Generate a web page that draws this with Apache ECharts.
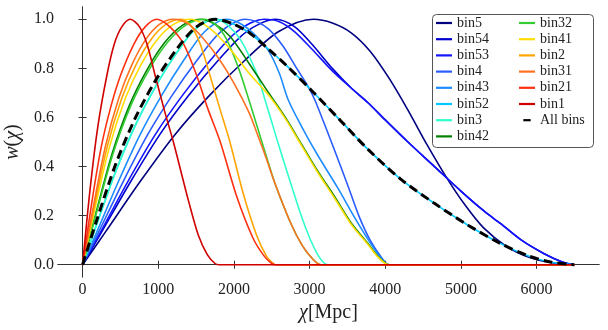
<!DOCTYPE html>
<html>
<head>
<meta charset="utf-8">
<script src="https://cdn.jsdelivr.net/npm/echarts@6/dist/echarts.min.js"></script>
<style>
  html, body { margin: 0; padding: 0; background: #fff; }
  #chart { width: 608px; height: 330px; }
</style>
</head>
<body>
<div id="chart"></div>
<script>
// tick labels
const xTicks = [0, 1000, 2000, 3000, 4000, 5000, 6000];
const yTicks = [0, 0.2, 0.4, 0.6, 0.8, 1.0];

// curves: [chi, w]
const bin5 = [[0,0],[305,0.135],[763,0.34],[1220,0.53],[1678,0.69],[2135,0.83],[2593,0.95],[3050,1],[3300,0.985],[3550,0.945],[3800,0.87],[4050,0.76],[4300,0.63],[4550,0.49],[4800,0.36],[5050,0.245],[5300,0.15],[5600,0.075],[5900,0.03],[6200,0.008],[6500,0]];
const bin54 = [[0,0],[255,0.135],[638,0.34],[1020,0.53],[1403,0.69],[1785,0.83],[2168,0.95],[2550,1],[2800,0.97],[3026,0.9],[3300,0.8],[3550,0.72],[3772,0.66],[4000,0.59],[4300,0.5],[4650,0.4],[5000,0.3],[5300,0.22],[5526,0.167],[5800,0.1],[6100,0.045],[6350,0.01],[6500,0]];
const bin53 = [[0,0],[240,0.135],[600,0.34],[960,0.53],[1320,0.69],[1680,0.83],[2040,0.95],[2400,1],[2600,0.99],[2800,0.95],[3026,0.88],[3300,0.79],[3550,0.72],[3772,0.66],[4000,0.59],[4300,0.5],[4650,0.4],[5000,0.3],[5300,0.22],[5526,0.167],[5800,0.1],[6100,0.045],[6350,0.01],[6500,0]];
const bin4 = [[0,0],[215,0.135],[538,0.34],[860,0.53],[1183,0.69],[1505,0.83],[1828,0.95],[2150,1],[2300,0.99],[2460,0.96],[2650,0.89],[2830,0.8],[2983,0.725],[3071,0.67],[3200,0.57],[3350,0.45],[3509,0.32],[3650,0.2],[3800,0.1],[3950,0.03],[4050,0],[6500,0]];
const bin43 = [[0,0],[190,0.135],[475,0.34],[760,0.53],[1045,0.69],[1330,0.83],[1615,0.95],[1900,1],[2100,0.98],[2300,0.93],[2460,0.87],[2600,0.78],[2720,0.67],[2900,0.56],[3100,0.45],[3378,0.31],[3600,0.19],[3800,0.09],[3950,0.025],[4050,0],[6500,0]];
const bin52 = [[0,0],[175,0.155],[438,0.38],[700,0.57],[963,0.725],[1225,0.855],[1488,0.96],[1750,1],[2000,0.98],[2225,0.94],[2450,0.88],[2700,0.81],[3026,0.71],[3400,0.59],[3772,0.47],[4200,0.35],[4650,0.25],[5100,0.16],[5526,0.086],[5900,0.035],[6200,0.01],[6500,0]];
const bin3 = [[0,0],[175,0.155],[438,0.38],[700,0.57],[963,0.725],[1225,0.855],[1488,0.96],[1750,1],[1900,0.98],[2100,0.91],[2300,0.78],[2413,0.67],[2550,0.53],[2650,0.43],[2763,0.32],[2900,0.19],[3000,0.11],[3100,0.045],[3180,0.01],[3250,0],[6500,0]];
const bin42 = [[0,0],[155,0.185],[388,0.45],[620,0.65],[853,0.795],[1085,0.905],[1318,0.975],[1550,1],[1750,0.98],[1950,0.93],[2200,0.82],[2460,0.7],[2680,0.6],[2895,0.49],[3100,0.385],[3334,0.276],[3550,0.17],[3772,0.086],[3900,0.035],[4000,0.006],[4050,0],[6500,0]];
const bin32 = [[0,0],[160,0.185],[400,0.45],[640,0.65],[880,0.795],[1120,0.905],[1360,0.975],[1600,1],[1750,0.98],[1900,0.92],[2062,0.8],[2200,0.67],[2300,0.57],[2420,0.45],[2544,0.33],[2750,0.17],[2900,0.08],[3050,0.02],[3150,0],[6500,0]];
const bin41 = [[0,0],[142,0.2],[355,0.48],[568,0.68],[781,0.82],[994,0.92],[1207,0.98],[1420,1],[1600,0.98],[1800,0.93],[2000,0.86],[2200,0.78],[2460,0.69],[2680,0.595],[2895,0.485],[3100,0.38],[3334,0.27],[3550,0.165],[3772,0.082],[3900,0.033],[4000,0.005],[4050,0],[6500,0]];
const bin2 = [[0,0],[130,0.2],[325,0.48],[520,0.68],[715,0.82],[910,0.92],[1105,0.98],[1300,1],[1430,0.975],[1553,0.9],[1685,0.77],[1810,0.64],[1947,0.5],[2123,0.29],[2300,0.12],[2430,0.035],[2530,0.003],[2560,0],[6500,0]];
const bin31 = [[0,0],[120,0.2],[300,0.48],[480,0.68],[660,0.82],[840,0.92],[1020,0.98],[1200,1],[1400,0.98],[1600,0.92],[1800,0.84],[2000,0.74],[2200,0.62],[2300,0.54],[2420,0.44],[2544,0.33],[2750,0.17],[2900,0.08],[3050,0.02],[3150,0],[6500,0]];
const bin21 = [[0,0],[120,0.25],[240,0.47],[370,0.64],[500,0.77],[680,0.9],[830,0.97],[980,1],[1150,0.97],[1334,0.9],[1509,0.77],[1650,0.64],[1820,0.5],[2035,0.28],[2250,0.11],[2400,0.035],[2500,0.005],[2550,0],[6500,0]];
const bin1 = [[0,0],[100,0.31],[200,0.56],[320,0.77],[420,0.9],[520,0.97],[630,1],[750,0.97],[850,0.9],[960,0.77],[1080,0.63],[1200,0.5],[1300,0.38],[1400,0.26],[1530,0.12],[1650,0.04],[1750,0.005],[1800,0],[6500,0]];
const allBins = [[0,0],[175,0.17],[438,0.41],[700,0.6],[963,0.75],[1225,0.87],[1488,0.965],[1750,1],[2000,0.98],[2225,0.94],[2450,0.88],[2700,0.81],[3026,0.71],[3400,0.59],[3772,0.47],[4200,0.35],[4650,0.25],[5100,0.16],[5526,0.086],[5900,0.035],[6200,0.01],[6500,0]];

const names = ['bin5','bin54','bin53','bin4','bin43','bin52','bin3','bin42','bin32','bin41','bin2','bin31','bin21','bin1'];
const curves = [bin5, bin54, bin53, bin4, bin43, bin52, bin3, bin42, bin32, bin41, bin2, bin31, bin21, bin1];
const colors = ['#000080','#0000cd','#1414ff','#2a5cff','#1e8cff','#00c8ff','#30ffcc','#008000','#33cc33','#ffdd00','#ffa500','#ff7020','#ff3010','#d00000'];

const serif = '"Liberation Serif", "Times New Roman", serif';
const txt = { fontFamily: serif, color: '#222' };

const series = names.map((n, i) => ({
  name: n,
  type: 'line',
  data: curves[i],
  smooth: 0.3,
  symbol: 'none',
  lineStyle: { color: colors[i], width: 1.6 },
  itemStyle: { color: colors[i] },
  z: 2,
}));
series.push({
  name: 'All bins',
  type: 'line',
  data: allBins,
  smooth: 0.3,
  symbol: 'none',
  lineStyle: { color: '#000', width: 3, type: [9, 5] },
  itemStyle: { color: '#000' },
  z: 3,
});

const chart = echarts.init(document.getElementById('chart'));

const frame = { show: true, lineStyle: { color: '#333', width: 1 } };
const inTicks = { show: true, inside: true, length: 4, lineStyle: { color: '#333' } };

const legendCommon = {
  orient: 'vertical',
  top: 16,
  padding: 0,
  icon: 'rect',
  itemWidth: 16,
  itemHeight: 2.2,
  itemGap: 2.2,
  z: 20,
  formatter: n => '{a|' + n + '}',
  textStyle: Object.assign({ fontSize: 14, lineHeight: 14,
    rich: { a: Object.assign({ fontSize: 14, lineHeight: 14 }, txt) } }, txt),
};

const legendRight = names.slice(8).map(n => ({ name: n }));
legendRight.push({ name: 'All bins', icon: 'path://M0,0H10V3H0Z' });

const tickText = Object.assign({ fontSize: 16 }, txt);
const nameText = Object.assign({ fontSize: 20,
  rich: { m: Object.assign({ fontSize: 20, fontStyle: 'italic' }, txt), r: Object.assign({ fontSize: 20 }, txt) } }, txt);

chart.setOption({
  animation: false,
  backgroundColor: '#fff',
  textStyle: { fontFamily: serif },
  grid: { left: 58, right: 9, top: 7, bottom: 53, outerBoundsMode: 'none' },
  xAxis: [
    {
      type: 'value', min: -325, max: 6825,
      axisLine: frame,
      axisTick: Object.assign({ customValues: xTicks }, inTicks),
      axisLabel: Object.assign({ customValues: xTicks, margin: 5,
        formatter: v => '{t|' + v + '}', rich: { t: tickText } }, tickText),
      splitLine: { show: false },
      name: '{m|χ}{r|[Mpc]}',
      nameLocation: 'middle',
      nameGap: 25,
      nameTextStyle: nameText,
    },
    {
      type: 'value', min: -325, max: 6825, position: 'top',
      axisLine: frame,
      axisTick: Object.assign({ customValues: xTicks }, inTicks),
      axisLabel: { show: false },
      splitLine: { show: false },
    },
  ],
  yAxis: [
    {
      type: 'value', min: -0.05, max: 1.05,
      axisLine: frame,
      axisTick: Object.assign({ customValues: yTicks }, inTicks),
      axisLabel: Object.assign({ customValues: yTicks, margin: 4,
        formatter: v => '{t|' + v.toFixed(1) + '}', rich: { t: tickText } }, tickText),
      splitLine: { show: false },
      name: '{m|w}{r|(}{m|χ}{r|)}',
      nameLocation: 'middle',
      nameGap: 24,
      nameTextStyle: nameText,
    },
    {
      type: 'value', min: -0.05, max: 1.05, position: 'right',
      axisLine: frame,
      axisTick: Object.assign({ customValues: yTicks }, inTicks),
      axisLabel: { show: false },
      splitLine: { show: false },
    },
  ],
  legend: [
    Object.assign({ left: 436, data: names.slice(0, 8) }, legendCommon),
    Object.assign({ left: 519, data: legendRight }, legendCommon),
  ],
  graphic: [{
    type: 'rect',
    z: 10,
    shape: { x: 432.5, y: 14.5, width: 161, height: 133, r: 4 },
    style: { fill: '#fff', stroke: '#555', lineWidth: 1 },
  }],
  series: series,
});
</script>
</body>
</html>
